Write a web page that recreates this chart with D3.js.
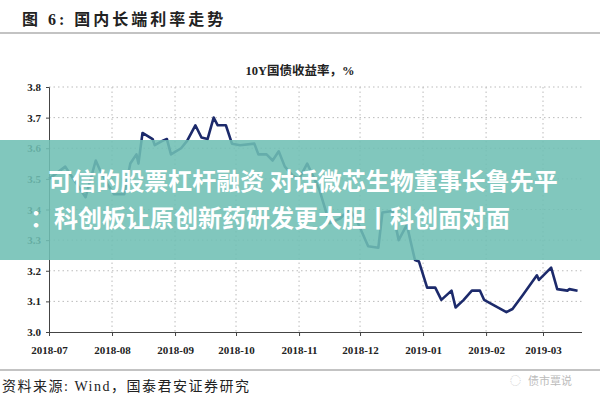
<!DOCTYPE html>
<html><head><meta charset="utf-8">
<script src="https://cdn.jsdelivr.net/npm/d3@7"></script>
<style>body{margin:0;background:#fff}svg{display:block}</style>
</head><body><svg id="c" width="600" height="400"></svg>
<script>
const dates = ["2018-07-01","2018-07-09","2018-07-14","2018-07-19","2018-07-24","2018-07-26","2018-07-30","2018-08-02","2018-08-07","2018-08-10","2018-08-13","2018-08-14","2018-08-16","2018-08-21","2018-08-22","2018-08-26","2018-08-28","2018-08-30","2018-09-04","2018-09-07","2018-09-11","2018-09-14","2018-09-17","2018-09-20","2018-09-22","2018-09-26","2018-09-29","2018-10-03","2018-10-10","2018-10-12","2018-10-16","2018-10-19","2018-10-22","2018-10-25","2018-10-29","2018-11-01","2018-11-05","2018-11-11","2018-11-16","2018-11-21","2018-11-26","2018-11-30","2018-12-05","2018-12-10","2018-12-12","2018-12-17","2018-12-20","2018-12-24","2018-12-28","2018-12-30","2019-01-03","2019-01-07","2019-01-10","2019-01-15","2019-01-17","2019-01-21","2019-01-25","2019-01-29","2019-01-31","2019-02-11","2019-02-14","2019-02-19","2019-02-26","2019-02-27","2019-03-05","2019-03-08","2019-03-13","2019-03-14","2019-03-18"];
const yields = [3.50,3.54,3.49,3.44,3.56,3.53,3.48,3.45,3.45,3.55,3.58,3.55,3.65,3.63,3.61,3.625,3.63,3.58,3.60,3.625,3.675,3.635,3.63,3.70,3.675,3.675,3.615,3.61,3.615,3.58,3.58,3.56,3.59,3.54,3.51,3.50,3.55,3.465,3.355,3.37,3.40,3.355,3.28,3.275,3.39,3.395,3.30,3.35,3.235,3.23,3.145,3.145,3.105,3.135,3.08,3.105,3.135,3.135,3.105,3.065,3.075,3.12,3.185,3.17,3.21,3.14,3.135,3.14,3.135];
const yTicks = [3.0,3.1,3.2,3.3,3.4,3.5,3.6,3.7,3.8];
const xTicks = ["2018-07","2018-08","2018-09","2018-10","2018-11","2018-12","2019-01","2019-02","2019-03"];

const svg = d3.select("#c");
const serif = "'Liberation Serif','Noto Sans CJK SC',serif";
const parse = d3.timeParse("%Y-%m-%d"), parseM = d3.timeParse("%Y-%m");
const x = d3.scaleTime().domain([parseM("2018-07"), parseM("2019-03")]).range([49, 543]);
const y = d3.scaleLinear().domain([3.0, 3.8]).range([332, 87]);
const L = 49, R = 582;

svg.append("text").attr("x",22).attr("y",25).attr("font-family",serif).attr("font-weight","bold").attr("font-size",16).attr("letter-spacing",3).attr("fill","#222").text("图 6:  国内长端利率走势");
svg.append("line").attr("x1",0).attr("x2",600).attr("y1",33).attr("y2",33).attr("stroke","#888").attr("stroke-width",1.2);
svg.append("text").attr("x",300).attr("y",75).attr("text-anchor","middle").attr("font-family",serif).attr("font-weight","bold").attr("font-size",12.5).attr("fill","#222").text("10Y国债收益率，%");

const g = svg.append("g");
yTicks.slice(1).forEach(t=>g.append("line").attr("x1",L).attr("x2",R).attr("y1",y(t)).attr("y2",y(t)).attr("stroke","#bbb").attr("stroke-dasharray","1.5,3"));
xTicks.slice(1).forEach(t=>g.append("line").attr("x1",x(parseM(t))).attr("x2",x(parseM(t))).attr("y1",87).attr("y2",332).attr("stroke","#bbb").attr("stroke-dasharray","1.5,3"));

const ya = svg.append("g").attr("transform",`translate(${L},0)`).call(d3.axisLeft(y).tickValues(yTicks).tickFormat(d3.format(".1f")).tickSize(3));
const xa = svg.append("g").attr("transform",`translate(0,332)`).call(d3.axisBottom(x).tickValues(xTicks.map(parseM)).tickFormat(d3.timeFormat("%Y-%m")).tickSize(4));
xa.select(".domain").attr("d",`M${L},0.5H${R}`);
[ya,xa].forEach(a=>{a.selectAll("text").attr("font-family",serif).attr("font-weight","bold").attr("font-size",11).attr("fill","#222");a.selectAll("path,line").attr("stroke","#444");});
ya.selectAll("text").attr("x",-8);
xa.selectAll("text").attr("y",14);

const pts = dates.map((d,i)=>[parse(d), yields[i]]);
svg.append("path").datum(pts).attr("fill","none").attr("stroke","#1c2a6b").attr("stroke-width",2.6).attr("stroke-linejoin","round")
  .attr("d", d3.line().x(d=>x(d[0])).y(d=>y(d[1])));

svg.append("rect").attr("x",0).attr("y",140).attr("width",600).attr("height",120).attr("fill","#6fbfb4").attr("opacity",0.88);
const bandFont = {"font-family":"'Noto Sans CJK SC'","font-weight":"bold","font-size":24,"fill":"#fff"};
const t1 = svg.append("text").attr("x",303).attr("y",190).attr("text-anchor","middle").text("可信的股票杠杆融资 对话微芯生物董事长鲁先平");
const t2 = svg.append("text").attr("x",30).attr("y",227).text("：科创板让原创新药研发更大胆丨科创面对面");
[t1,t2].forEach(t=>Object.entries(bandFont).forEach(([k,v])=>t.attr(k,v)));

svg.append("line").attr("x1",0).attr("x2",600).attr("y1",370).attr("y2",370).attr("stroke","#888").attr("stroke-width",1.2);
svg.append("text").attr("x",2).attr("y",391).attr("font-family",serif).attr("font-size",14).attr("letter-spacing",1.5).attr("fill","#222").text("资料来源:  Wind，国泰君安证券研究");
svg.append("text").attr("x",528).attr("y",385).attr("font-family","'Noto Sans CJK SC'").attr("font-size",11).attr("fill","#bbb").text("债市覃说");
svg.append("text").attr("x",510).attr("y",385).attr("font-family","'Noto Sans CJK SC'").attr("font-size",11).attr("fill","#ccc").text("◌");
</script></body></html>
